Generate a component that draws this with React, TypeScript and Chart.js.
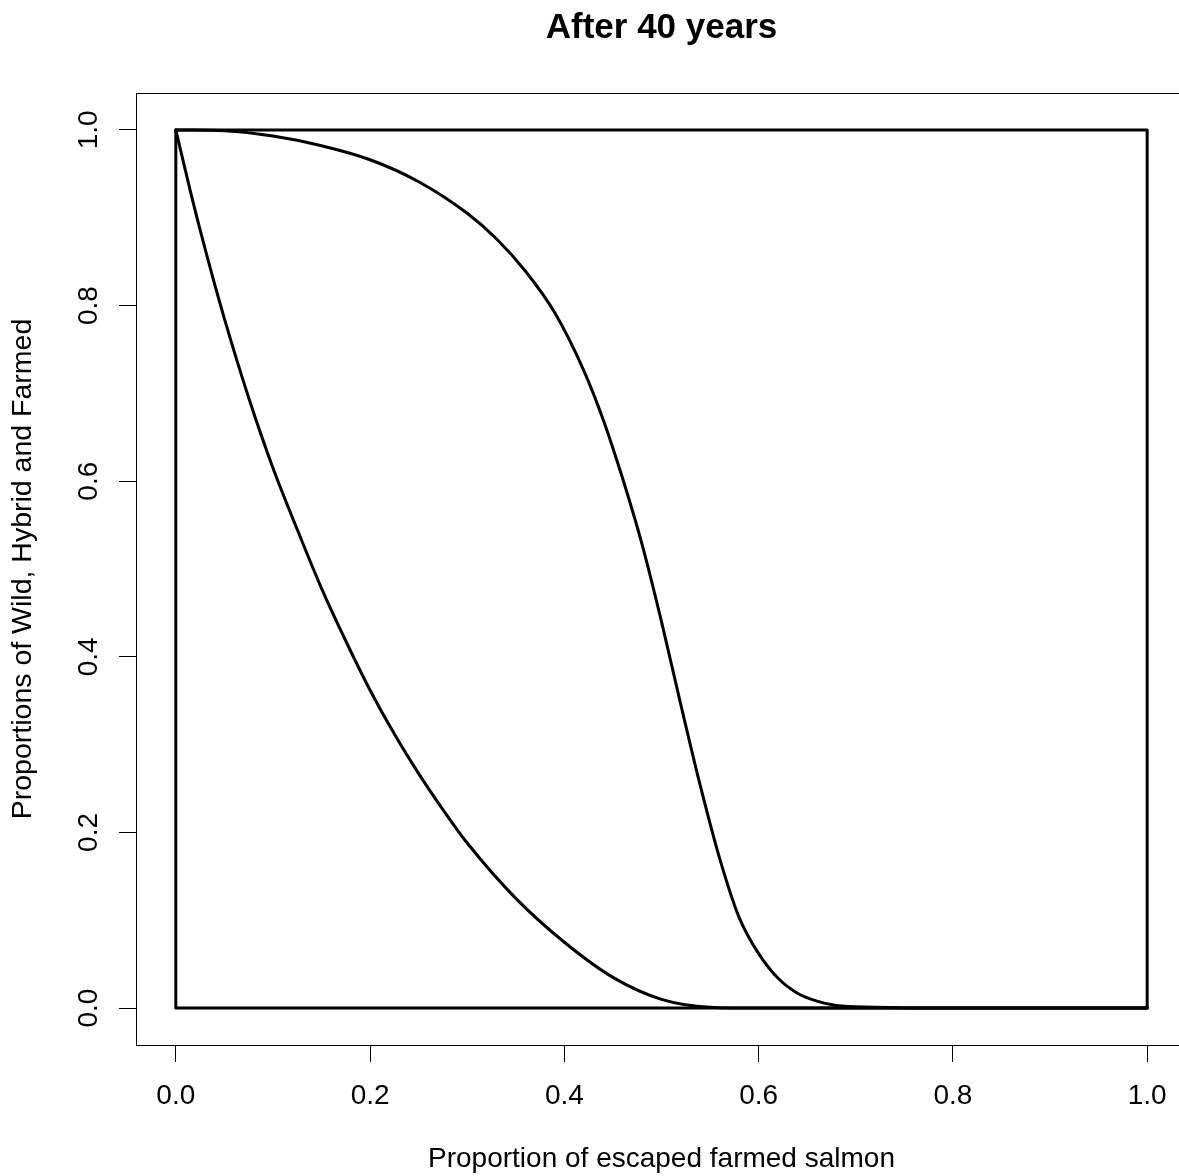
import React, { useEffect, useRef } from "react";
import { Chart, registerables } from "chart.js";

Chart.register(...registerables);

const TITLE = "After 40 years";
const X_LABEL = "Proportion of escaped farmed salmon";
const Y_LABEL = "Proportions of Wild, Hybrid and Farmed";

const X_TICKS = [0, 0.2, 0.4, 0.6, 0.8, 1.0];
const Y_TICKS = [0, 0.2, 0.4, 0.6, 0.8, 1.0];

// Outer bounding rectangle (total = 1)
const BOX_X = [0, 0, 1, 1, 0];
const BOX_Y = [0, 1, 1, 0, 0];

// Lower curve (Wild)
const WILD_X = [0, 0.015, 0.03, 0.05, 0.075, 0.1, 0.125, 0.15, 0.175, 0.2, 0.225, 0.25, 0.275, 0.3, 0.35, 0.4, 0.45, 0.5, 0.55, 0.6, 1.0];
const WILD_Y = [1, 0.93, 0.865, 0.785, 0.695, 0.615, 0.545, 0.478, 0.418, 0.362, 0.312, 0.267, 0.226, 0.188, 0.125, 0.075, 0.035, 0.01, 0.001, 0, 0];

// Upper curve (Wild + Hybrid)
const HYBRID_X = [0, 0.05, 0.1, 0.15, 0.2, 0.25, 0.3, 0.33, 0.36, 0.39, 0.42, 0.44, 0.46, 0.48, 0.5, 0.52, 0.54, 0.56, 0.58, 0.6, 0.62, 0.64, 0.66, 0.68, 0.72, 0.76, 1.0];
const HYBRID_Y = [1, 0.999, 0.993, 0.982, 0.966, 0.941, 0.905, 0.876, 0.839, 0.792, 0.726, 0.67, 0.603, 0.528, 0.44, 0.345, 0.253, 0.17, 0.103, 0.062, 0.034, 0.017, 0.008, 0.003, 0.001, 0, 0];

const FONT = "'Liberation Sans', Arial, Helvetica, sans-serif";

const toPts = (xs: number[], ys: number[]) => xs.map((x, i) => ({ x, y: ys[i] }));

const framePlugin = {
  id: "rframe",
  beforeDatasetsDraw(chart: any) {
    const { ctx, chartArea } = chart;
    ctx.save();
    ctx.strokeStyle = "#000";
    ctx.lineWidth = 1;
    const l = Math.round(chartArea.left) + 0.5;
    const t = Math.round(chartArea.top) + 0.5;
    const r = Math.round(chartArea.right) + 0.5;
    const b = Math.round(chartArea.bottom) + 0.5;
    ctx.strokeRect(l, t, r - l, b - t);
    ctx.restore();
  },
};

export default function App() {
  const ref = useRef<HTMLCanvasElement | null>(null);

  useEffect(() => {
    if (!ref.current) return;
    const lineStyle = {
      borderColor: "#000",
      borderWidth: 3,
      pointRadius: 0,
      fill: false,
      tension: 0,
      borderCapStyle: "round" as const,
      borderJoinStyle: "round" as const,
    };
    const chart = new Chart(ref.current, {
      type: "line",
      data: {
        datasets: [
          { label: "Total", data: toPts(BOX_X, BOX_Y), ...lineStyle },
          { label: "Wild", data: toPts(WILD_X, WILD_Y), ...lineStyle, cubicInterpolationMode: "monotone" as const },
          { label: "Wild+Hybrid", data: toPts(HYBRID_X, HYBRID_Y), ...lineStyle, cubicInterpolationMode: "monotone" as const },
        ],
      },
      options: {
        animation: false,
        responsive: false,
        devicePixelRatio: 1,
        layout: { padding: { left: 0, right: 13, top: 0, bottom: 0 } },
        plugins: {
          legend: { display: false },
          tooltip: { enabled: false },
          title: {
            display: true,
            text: TITLE,
            color: "#000",
            fullSize: false,
            font: { family: FONT, size: 35, weight: "bold", lineHeight: 1.2 },
            padding: { top: 7, bottom: 44 },
          },
        },
        scales: {
          x: {
            type: "linear",
            min: -0.041,
            max: 1.041,
            afterBuildTicks: (axis: any) => {
              axis.ticks = X_TICKS.map((v) => ({ value: v }));
            },
            afterFit: (axis: any) => {
              axis.height = 131;
            },
            border: { display: false },
            grid: {
              drawOnChartArea: false,
              drawTicks: true,
              tickLength: 17,
              color: "#000",
              lineWidth: 1,
            },
            ticks: {
              autoSkip: false,
              maxRotation: 0,
              minRotation: 0,
              padding: 17,
              color: "#000",
              font: { family: FONT, size: 28, lineHeight: 1.2 },
              callback: (v: any) => Number(v).toFixed(1),
            },
            title: {
              display: true,
              text: X_LABEL,
              color: "#000",
              font: { family: FONT, size: 28, lineHeight: 1.2 },
              padding: { top: 0, bottom: 0 },
            },
          },
          y: {
            type: "linear",
            min: -0.042,
            max: 1.042,
            afterBuildTicks: (axis: any) => {
              axis.ticks = Y_TICKS.map((v) => ({ value: v }));
            },
            afterFit: (axis: any) => {
              axis.width = 136;
            },
            border: { display: false },
            grid: {
              drawOnChartArea: false,
              drawTicks: true,
              tickLength: 17,
              color: "#000",
              lineWidth: 1,
            },
            ticks: {
              autoSkip: false,
              minRotation: 90,
              maxRotation: 90,
              crossAlign: "center",
              padding: 10,
              color: "#000",
              font: { family: FONT, size: 28, lineHeight: 1.2 },
              callback: (v: any) => Number(v).toFixed(1),
            },
            title: {
              display: true,
              text: Y_LABEL,
              color: "#000",
              font: { family: FONT, size: 28.5, lineHeight: 1.2 },
              padding: { top: 6, bottom: 0 },
            },
          },
        },
      },
      plugins: [framePlugin],
    });
    return () => chart.destroy();
  }, []);

  return (
    <div
      style={{
        position: "fixed",
        left: 0,
        top: 0,
        width: 1179,
        height: 1176,
        overflow: "hidden",
        background: "#fff",
      }}
    >
      <canvas ref={ref} width={1200} height={1176} style={{ display: "block", width: 1200, height: 1176 }} />
    </div>
  );
}
